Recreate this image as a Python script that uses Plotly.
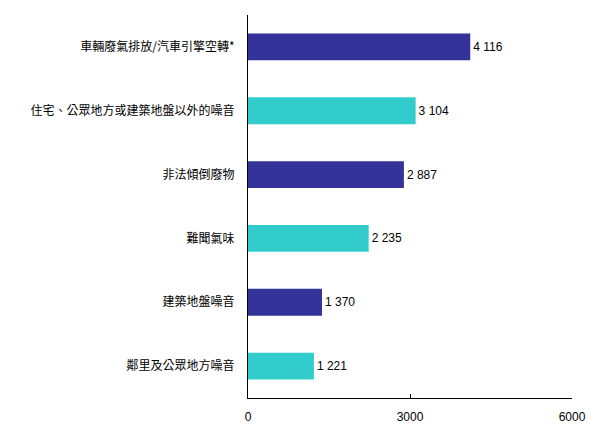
import plotly.graph_objects as go

categories = ["車輛廢氣排放/汽車引擎空轉*", "住宅、公眾地方或建築地盤以外的噪音", "非法傾倒廢物",
              "難聞氣味", "建築地盤噪音", "鄰里及公眾地方噪音"]
values = [4116, 3104, 2887, 2235, 1370, 1221]
colors = ["#333399", "#33CCCC", "#333399", "#33CCCC", "#333399", "#33CCCC"]
x_ticks = [0, 3000, 6000]

labels = ["{:,}".format(v).replace(",", " ") for v in values]

fig = go.Figure(go.Bar(
    y=categories, x=values, orientation="h",
    marker=dict(color=colors, line=dict(width=0)),
    text=labels, textposition="outside", cliponaxis=False,
    textfont=dict(family="Liberation Sans, Arial", size=12, color="black"),
    width=0.42,
))

fig.update_layout(
    width=595, height=435,
    margin=dict(l=240, r=31, t=7, b=45, autoexpand=False),
    plot_bgcolor="white", paper_bgcolor="white",
    showlegend=False,
    bargap=0.58,
    font=dict(family="Noto Sans CJK TC", size=12, color="black"),
)
fig.update_xaxes(
    range=[0, 6000], tickvals=x_ticks, ticktext=[str(t) for t in x_ticks],
    showgrid=False, zeroline=False, showline=True, linecolor="black", linewidth=1,
    ticks="inside", ticklen=4, tickcolor="black", automargin=False,
    tickfont=dict(family="Liberation Sans, Arial", size=12, color="black"),
    ticklabelstandoff=8,
)
fig.update_yaxes(
    autorange="reversed", showgrid=False, zeroline=False, automargin=False,
    showline=True, linecolor="black", linewidth=1, ticks="",
    tickfont=dict(family="Noto Sans CJK TC", size=12, color="black"),
    ticklabelstandoff=10,
)

fig.write_html("out.html")
